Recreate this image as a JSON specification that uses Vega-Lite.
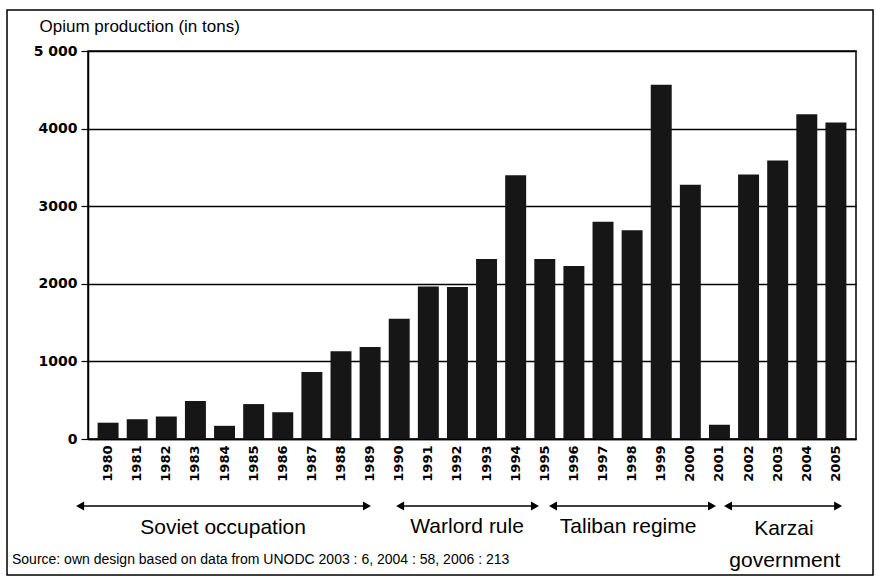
{
  "$schema": "https://vega.github.io/schema/vega-lite/v6.json",
  "padding": {"left": 6, "top": 9, "right": 2, "bottom": 1},
  "background": "white",
  "bounds": "flush",
  "spacing": 51,
  "config": {"view": {"stroke": null}, "font": "Liberation Sans"},
  "vconcat": [
    {
      "width": 768,
      "height": 388,
      "view": {"stroke": "black", "strokeWidth": 1.5},
      "data": {
        "values": [
          {"year": 1980, "tons": 210},
          {"year": 1981, "tons": 255},
          {"year": 1982, "tons": 290},
          {"year": 1983, "tons": 490},
          {"year": 1984, "tons": 170},
          {"year": 1985, "tons": 450},
          {"year": 1986, "tons": 345},
          {"year": 1987, "tons": 865},
          {"year": 1988, "tons": 1130},
          {"year": 1989, "tons": 1185},
          {"year": 1990, "tons": 1550},
          {"year": 1991, "tons": 1965},
          {"year": 1992, "tons": 1960},
          {"year": 1993, "tons": 2320},
          {"year": 1994, "tons": 3400},
          {"year": 1995, "tons": 2320},
          {"year": 1996, "tons": 2230},
          {"year": 1997, "tons": 2800},
          {"year": 1998, "tons": 2690},
          {"year": 1999, "tons": 4565},
          {"year": 2000, "tons": 3275},
          {"year": 2001, "tons": 185},
          {"year": 2002, "tons": 3410},
          {"year": 2003, "tons": 3590},
          {"year": 2004, "tons": 4185},
          {"year": 2005, "tons": 4080}
        ]
      },
      "mark": {"type": "bar", "color": "#161616"},
      "encoding": {
        "x": {
          "field": "year",
          "type": "ordinal",
          "scale": {"paddingInner": 0.28, "paddingOuter": 0.33},
          "axis": {
            "title": null,
            "labelAngle": 270,
            "labelFont": "DejaVu Sans",
            "labelFontWeight": "bold",
            "labelFontSize": 13,
            "labelColor": "black",
            "ticks": false,
            "labelPadding": 6,
            "domainColor": "black",
            "domainWidth": 1.5
          }
        },
        "y": {
          "field": "tons",
          "type": "quantitative",
          "scale": {"domain": [0, 5000], "nice": false},
          "axis": {
            "title": "Opium production (in tons)",
            "titleAngle": 0,
            "titleAlign": "left",
            "titleBaseline": "alphabetic",
            "titleX": -49,
            "titleY": -20,
            "titleFont": "Liberation Sans",
            "titleFontSize": 17,
            "titleFontWeight": "normal",
            "titleColor": "black",
            "values": [0, 1000, 2000, 3000, 4000, 5000],
            "format": "d",
            "labelExpr": "datum.value == 5000 ? '5 000' : datum.label",
            "labelFont": "DejaVu Sans",
            "labelFontWeight": "bold",
            "labelFontSize": 14,
            "labelColor": "black",
            "labelPadding": 4,
            "tickSize": 7,
            "tickColor": "black",
            "tickWidth": 1.2,
            "gridColor": "black",
            "gridWidth": 1.3,
            "gridOpacity": 1,
            "domainColor": "black",
            "domainWidth": 1.5
          }
        }
      }
    },
    {
      "width": 768,
      "height": 80,
      "view": {"stroke": null},
      "layer": [
        {
          "data": {"values": [{"x0": 1976.56, "x1": 2006.3, "y0": -480, "y1": 85}]},
          "mark": {"type": "rect", "fill": "white", "fillOpacity": 0, "stroke": "black", "strokeWidth": 1.5, "clip": false},
          "encoding": {
            "x": {"field": "x0", "type": "quantitative", "scale": {"domain": [1979.341, 2005.715], "nice": false, "zero": false}, "axis": null},
            "x2": {"field": "x1"},
            "y": {"field": "y0", "type": "quantitative", "scale": {"domain": [0, 80], "reverse": true, "nice": false, "zero": false}, "axis": null},
            "y2": {"field": "y1"}
          }
        },
        {
          "data": {"name": "periods", "values": [
            {"period": "Soviet occupation", "start": 1979.07, "end": 1988.92, "y": 16},
            {"period": "Warlord rule", "start": 1990.06, "end": 1994.69, "y": 16},
            {"period": "Taliban regime", "start": 1995.31, "end": 2000.77, "y": 16},
            {"period": "Karzai government", "start": 2001.32, "end": 2005.1, "y": 16}
          ]},
          "layer": [
            {
              "mark": {"type": "rule", "color": "black", "strokeWidth": 1.5, "clip": false},
              "encoding": {
                "x": {"field": "start", "type": "quantitative"},
                "x2": {"field": "end"},
                "y": {"field": "y", "type": "quantitative"}
              }
            },
            {
              "mark": {"type": "point", "shape": "triangle-left", "filled": true, "size": 85, "color": "black", "opacity": 1, "clip": false},
              "encoding": {
                "x": {"field": "start", "type": "quantitative"},
                "y": {"field": "y", "type": "quantitative"}
              }
            },
            {
              "mark": {"type": "point", "shape": "triangle-right", "filled": true, "size": 85, "color": "black", "opacity": 1, "clip": false},
              "encoding": {
                "x": {"field": "end", "type": "quantitative"},
                "y": {"field": "y", "type": "quantitative"}
              }
            }
          ]
        },
        {
          "data": {"values": [
            {"t": "Soviet occupation", "x": 1983.98, "y": 44},
            {"t": "Warlord rule", "x": 1992.36, "y": 43},
            {"t": "Taliban regime", "x": 1997.89, "y": 43},
            {"t": "Karzai", "x": 2003.24, "y": 45},
            {"t": "government", "x": 2003.27, "y": 77}
          ]},
          "mark": {"type": "text", "font": "Liberation Sans", "fontSize": 21, "align": "center", "baseline": "alphabetic", "color": "black", "clip": false},
          "encoding": {
            "x": {"field": "x", "type": "quantitative"},
            "y": {"field": "y", "type": "quantitative"},
            "text": {"field": "t"}
          }
        },
        {
          "data": {"values": [
            {"t": "Source: own design based on data from UNODC 2003 : 6, 2004 : 58, 2006 : 213", "x": 1976.73, "y": 74}
          ]},
          "mark": {"type": "text", "font": "Liberation Sans", "fontSize": 14, "align": "left", "baseline": "alphabetic", "color": "black", "clip": false},
          "encoding": {
            "x": {"field": "x", "type": "quantitative"},
            "y": {"field": "y", "type": "quantitative"},
            "text": {"field": "t"}
          }
        }
      ]
    }
  ]
}
